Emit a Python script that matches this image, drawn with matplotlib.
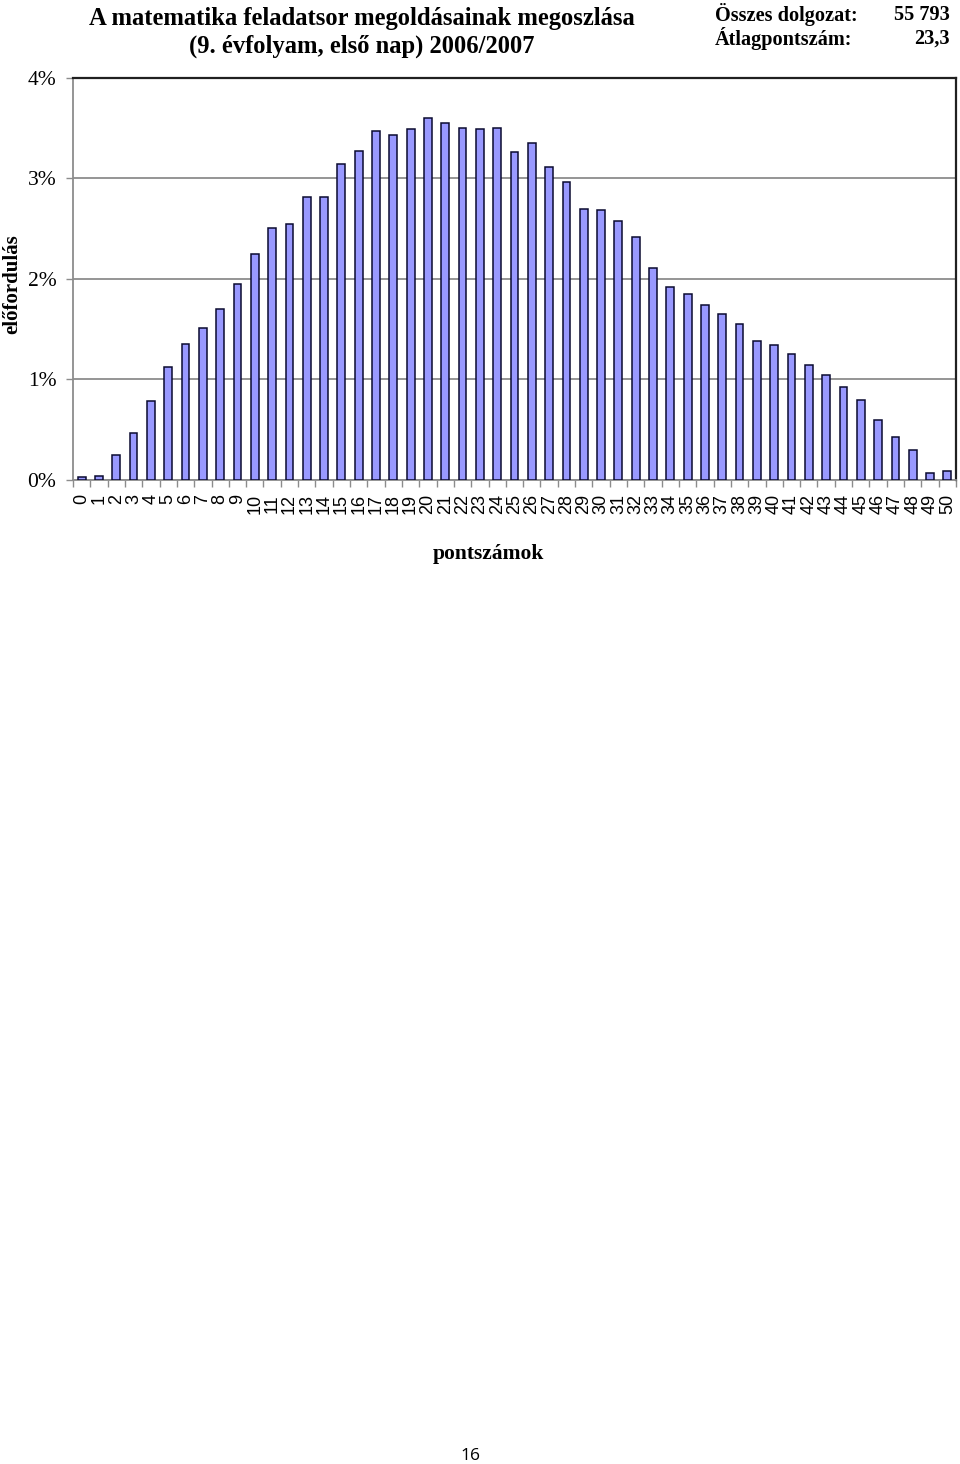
import matplotlib.pyplot as plt
import numpy as np

# pontszám -> előfordulás (%)
points = list(range(51))
freq = [0.03, 0.04, 0.25, 0.47, 0.79, 1.12, 1.35, 1.51, 1.70, 1.95,
        2.25, 2.51, 2.55, 2.82, 2.82, 3.14, 3.27, 3.47, 3.43, 3.49,
        3.60, 3.55, 3.50, 3.49, 3.50, 3.26, 3.35, 3.11, 2.97, 2.70,
        2.69, 2.58, 2.42, 2.11, 1.92, 1.85, 1.74, 1.65, 1.55, 1.38,
        1.34, 1.25, 1.14, 1.04, 0.93, 0.80, 0.60, 0.43, 0.30, 0.07,
        0.09]
y_ticks = [0, 1, 2, 3, 4]

title_lines = ["A matematika feladatsor megoldásainak megoszlása",
               "(9. évfolyam, első nap) 2006/2007"]
info_labels = ["Összes dolgozat:", "Átlagpontszám:"]
info_values = ["55 793", "23,3"]

W, H = 960, 1464
fig = plt.figure(figsize=(W / 100, H / 100), dpi=100)
fig.patch.set_facecolor('white')

# axes placed in pixel coordinates of the page
left, right, top, bottom = 73, 956, 78, 480
ax = fig.add_axes([left / W, 1 - bottom / H, (right - left) / W, (bottom - top) / H])

ax.bar(points, freq, width=0.45, color='#9999ff', edgecolor='#0a0a30', linewidth=1.1, zorder=3)

ax.set_xlim(-0.5, 50.5)
ax.set_ylim(0, 4)
ax.set_yticks(y_ticks)
ax.set_yticklabels([f"{v}%" for v in y_ticks], family='Liberation Serif', fontsize=15.5)
ax.yaxis.grid(True, color='#8c8c8c', linewidth=1.3, zorder=0)

ax.set_xticks(points)
ax.set_xticklabels([str(p) for p in points], rotation=90, family='Liberation Sans', fontsize=13)
ax.set_xticks(np.arange(-0.5, 51, 1), minor=True)
ax.tick_params(axis='x', which='major', length=0, pad=10)
ax.tick_params(axis='x', which='minor', length=5, color='#8c8c8c', width=1)
ax.tick_params(axis='y', length=5, color='#8c8c8c', width=1, pad=7)

for side in ['left', 'bottom']:
    ax.spines[side].set_color('#8c8c8c')
    ax.spines[side].set_linewidth(1.3)
for side in ['top', 'right']:
    ax.spines[side].set_color('#202020')
    ax.spines[side].set_linewidth(1.6)

# titles and labels
fig.text(362 / W, 1 - 18 / H, title_lines[0], ha='center', va='center',
         family='Liberation Serif', fontweight='bold', fontsize=17.7)
fig.text(362 / W, 1 - 46 / H, title_lines[1], ha='center', va='center',
         family='Liberation Serif', fontweight='bold', fontsize=17.7)
for i, (lab, val) in enumerate(zip(info_labels, info_values)):
    yy = 1 - (15 + 24 * i) / H
    fig.text(715 / W, yy, lab, ha='left', va='center',
             family='Liberation Serif', fontweight='bold', fontsize=14.6)
    fig.text(950 / W, yy, val, ha='right', va='center',
             family='Liberation Serif', fontweight='bold', fontsize=14.6)

fig.text(12 / W, 1 - 284 / H, "előfordulás", rotation=90, ha='center', va='center',
         family='Liberation Serif', fontweight='bold', fontsize=15)
fig.text(488 / W, 1 - 554 / H, "pontszámok", ha='center', va='center',
         family='Liberation Serif', fontweight='bold', fontsize=15.5)

# page number
fig.text(470 / W, 1 - 1456 / H, "16", ha='center', va='center',
         family='Open Sans', fontsize=12.5)

fig.savefig('out.png', dpi=100)
